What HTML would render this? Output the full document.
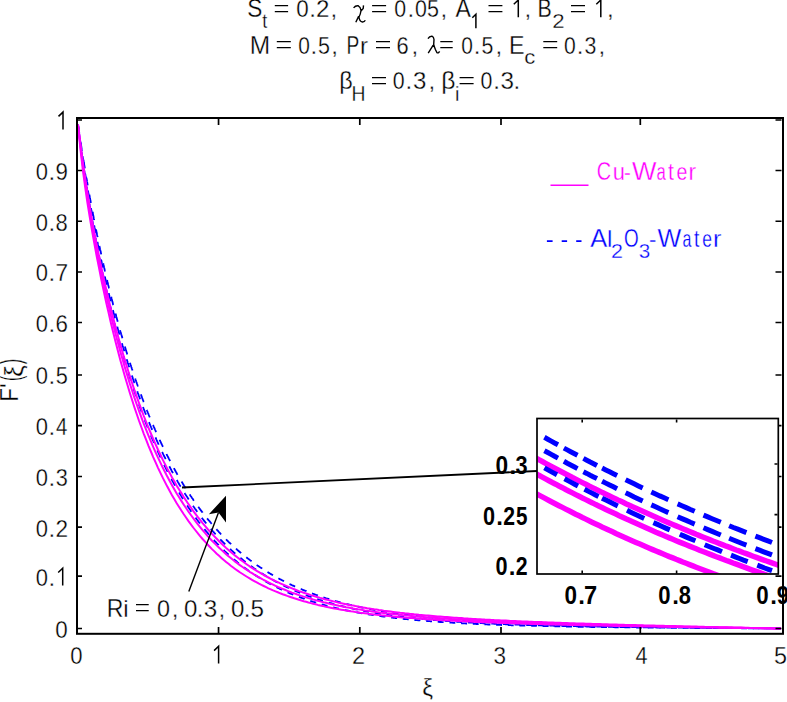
<!DOCTYPE html>
<html><head><meta charset="utf-8">
<style>
html,body{margin:0;padding:0;background:#fff;}
svg{display:block;}
text{font-family:"Liberation Sans",sans-serif;}
</style></head>
<body>
<svg width="787" height="702" viewBox="0 0 787 702">
<defs>
<clipPath id="cm"><rect x="78" y="119" width="704" height="514"/></clipPath>
<clipPath id="ci"><rect x="537.5" y="419" width="240.5" height="154.5"/></clipPath>
</defs>
<rect width="787" height="702" fill="#fff"/>
<g clip-path="url(#cm)" fill="none" stroke-width="2" stroke-linejoin="round">
<g stroke="#0000ff" stroke-width="1.8"><path d="M78.0,124.7 L78.1,125.5 L78.2,126.3 L78.4,127.1 L78.5,127.9 L78.6,128.7 L78.7,129.5 L78.8,130.3 L78.9,131.0 L79.1,131.8 L79.2,132.6 L79.3,133.4 M80.7,142.6 L80.8,143.4 L80.9,144.2 L81.0,144.9 L81.2,145.7 L81.3,146.4 L81.4,147.2 L81.5,147.9 L81.6,148.7 L81.7,149.4 L81.9,150.2 L82.0,150.9 M83.4,159.7 L83.5,160.4 L83.6,161.1 L83.7,161.9 L83.9,162.6 L84.0,163.3 L84.1,164.0 L84.2,164.7 L84.3,165.4 L84.4,166.1 L84.6,166.8 L84.7,167.5 L84.8,168.3 M86.3,177.3 L86.4,178.0 L86.6,178.7 L86.7,179.3 L86.8,180.0 L86.9,180.7 L87.0,181.4 L87.1,182.0 L87.3,182.7 L87.4,183.4 L87.5,184.1 L87.6,184.7 L87.7,185.4 M89.4,194.6 L89.5,195.3 L89.6,195.9 L89.7,196.6 L89.8,197.2 L90.0,197.9 L90.1,198.5 L90.2,199.1 L90.3,199.8 L90.4,200.4 L90.5,201.1 L90.7,201.7 L90.8,202.3 L90.9,203.0 M92.5,211.7 L92.6,212.3 L92.8,212.9 L92.9,213.6 L93.0,214.2 L93.1,214.8 L93.2,215.4 L93.4,216.0 L93.5,216.6 L93.6,217.2 L93.7,217.8 L93.8,218.4 L93.9,219.0 L94.1,219.6 L94.2,220.2 M95.9,229.1 L96.0,229.7 L96.2,230.3 L96.3,230.8 L96.4,231.4 L96.5,232.0 L96.6,232.6 L96.7,233.1 L96.9,233.7 L97.0,234.3 L97.1,234.9 L97.2,235.4 L97.3,236.0 L97.5,236.6 L97.6,237.2 M99.4,246.1 L99.7,247.2 L99.9,248.3 L100.1,249.4 L100.4,250.5 L100.6,251.6 L100.9,252.7 L101.1,253.7 L101.2,254.3 M103.2,263.3 L103.4,264.3 L103.7,265.4 L103.9,266.4 L104.1,267.4 L104.4,268.5 L104.6,269.5 L104.8,270.5 L105.1,271.5 M107.1,280.0 L107.3,281.0 L107.5,282.0 L107.8,283.0 L108.0,284.0 L108.2,284.9 L108.5,285.9 L108.7,286.9 L108.9,287.8 L109.1,288.3 M111.2,296.8 L111.4,297.7 L111.6,298.7 L111.9,299.6 L112.1,300.5 L112.3,301.4 L112.6,302.3 L112.8,303.3 L113.0,304.2 L113.3,305.1 M115.5,313.5 L115.7,314.4 L116.0,315.3 L116.2,316.1 L116.4,317.0 L116.7,317.9 L116.9,318.7 L117.1,319.6 L117.4,320.5 L117.6,321.3 L117.7,321.7 M120.1,330.1 L120.3,331.0 L120.5,331.8 L120.8,332.6 L121.0,333.4 L121.2,334.2 L121.5,335.0 L121.7,335.8 L121.9,336.6 L122.2,337.5 L122.4,338.3 M124.9,346.5 L125.1,347.3 L125.3,348.1 L125.6,348.8 L125.8,349.6 L126.0,350.4 L126.3,351.1 L126.5,351.9 L126.7,352.7 L127.0,353.4 L127.2,354.2 L127.3,354.5 M129.9,362.7 L130.1,363.4 L130.4,364.1 L130.6,364.8 L130.9,365.6 L131.1,366.3 L131.3,367.0 L131.6,367.7 L131.8,368.4 L132.0,369.1 L132.3,369.8 L132.5,370.5 M135.2,378.5 L135.5,379.5 L135.9,380.5 L136.2,381.5 L136.6,382.5 L136.9,383.6 L137.3,384.5 L137.6,385.5 L138.0,386.5 M140.8,394.3 L141.2,395.2 L141.5,396.2 L141.9,397.1 L142.2,398.1 L142.6,399.0 L142.9,399.9 L143.3,400.8 L143.6,401.8 L143.7,402.1 M146.8,409.9 L147.1,410.8 L147.5,411.7 L147.8,412.5 L148.2,413.4 L148.5,414.3 L148.9,415.1 L149.2,416.0 L149.6,416.9 L149.8,417.4 M153.0,425.0 L153.4,425.8 L153.7,426.6 L154.1,427.4 L154.4,428.2 L154.8,429.0 L155.1,429.8 L155.5,430.6 L155.8,431.4 L156.2,432.2 M159.6,439.7 L159.9,440.5 L160.3,441.2 L160.6,442.0 L161.0,442.7 L161.3,443.5 L161.7,444.2 L162.0,444.9 L162.4,445.7 L162.7,446.4 L163.0,446.9 M166.5,454.0 L166.9,455.0 L167.4,455.9 L167.9,456.8 L168.4,457.7 L168.8,458.6 L169.3,459.5 L169.8,460.4 L170.1,461.1 M173.9,468.1 L174.3,469.0 L174.8,469.8 L175.3,470.7 L175.7,471.5 L176.2,472.3 L176.7,473.2 L177.1,474.0 L177.6,474.8 M181.6,481.6 L182.1,482.4 L182.5,483.1 L183.0,483.9 L183.5,484.7 L183.9,485.4 L184.4,486.2 L184.9,487.0 L185.3,487.7 L185.6,488.1 M189.7,494.4 L190.1,495.1 L190.6,495.9 L191.1,496.6 L191.6,497.3 L192.0,497.9 L192.5,498.6 L193.0,499.3 L193.4,500.0 L193.9,500.7 M198.2,506.8 L198.7,507.4 L199.2,508.1 L199.6,508.7 L200.1,509.3 L200.6,509.9 L201.0,510.6 L201.5,511.2 L202.0,511.8 L202.5,512.4 L202.6,512.6 M207.1,518.4 L207.7,519.1 L208.3,519.8 L208.9,520.5 L209.5,521.2 L210.1,521.9 L210.7,522.6 L211.2,523.3 L211.7,523.9 M216.4,529.2 L217.0,529.9 L217.6,530.5 L218.2,531.1 L218.7,531.8 L219.3,532.4 L219.9,533.0 L220.5,533.7 L221.1,534.3 L221.2,534.4 M226.0,539.3 L226.6,539.9 L227.2,540.5 L227.8,541.0 L228.3,541.6 L228.9,542.2 L229.5,542.7 L230.1,543.3 L230.7,543.8 L231.0,544.2 M236.0,548.6 L236.6,549.2 L237.1,549.7 L237.7,550.2 L238.3,550.7 L238.9,551.2 L239.5,551.7 L240.1,552.2 L240.7,552.7 L241.1,553.1 M246.3,557.2 L246.9,557.7 L247.5,558.2 L248.0,558.6 L248.6,559.1 L249.2,559.5 L249.8,559.9 L250.4,560.4 L251.0,560.8 L251.6,561.3 M256.7,564.9 L257.3,565.4 L257.9,565.8 L258.5,566.2 L259.1,566.6 L259.6,567.0 L260.2,567.3 L260.8,567.7 L261.4,568.1 L262.0,568.5 L262.1,568.6 M267.5,572.0 L268.2,572.4 L268.9,572.9 L269.6,573.3 L270.3,573.7 L271.0,574.1 L271.7,574.5 L272.4,574.9 L273.0,575.3 M278.4,578.3 L279.1,578.7 L279.8,579.1 L280.5,579.4 L281.2,579.8 L281.9,580.2 L282.6,580.5 L283.3,580.9 L284.0,581.3 M289.5,584.0 L290.2,584.3 L290.9,584.6 L291.6,585.0 L292.3,585.3 L293.0,585.6 L293.7,585.9 L294.4,586.2 L295.1,586.6 M300.7,589.0 L301.4,589.2 L302.1,589.5 L302.8,589.8 L303.5,590.1 L304.2,590.4 L304.9,590.7 L305.6,591.0 L306.3,591.2 L306.4,591.3 M312.0,593.4 L312.7,593.7 L313.4,593.9 L314.1,594.2 L314.8,594.5 L315.5,594.7 L316.2,595.0 L316.9,595.2 L317.6,595.4 L317.8,595.5 M323.4,597.4 L324.1,597.6 L324.8,597.8 L325.5,598.0 L326.2,598.3 L326.9,598.5 L327.6,598.7 L328.3,598.9 L329.0,599.1 L329.1,599.2 M334.9,600.9 L335.6,601.1 L336.3,601.3 L337.0,601.5 L337.7,601.6 L338.4,601.8 L339.1,602.0 L339.8,602.2 L340.5,602.4 L340.6,602.4 M346.4,603.9 L347.1,604.1 L347.8,604.3 L348.5,604.4 L349.2,604.6 L349.9,604.8 L350.6,605.0 L351.3,605.1 L352.0,605.3 L352.1,605.3 M357.8,606.6 L358.5,606.8 L359.2,606.9 L359.9,607.1 L360.7,607.2 L361.4,607.4 L362.1,607.5 L362.8,607.7 L363.5,607.8 L363.7,607.9 M369.4,609.0 L370.1,609.2 L370.8,609.3 L371.6,609.4 L372.3,609.6 L373.0,609.7 L373.7,609.8 L374.4,609.9 L375.1,610.1 L375.3,610.1 M381.0,611.1 L381.7,611.2 L382.4,611.4 L383.2,611.5 L383.9,611.6 L384.6,611.7 L385.3,611.8 L386.0,611.9 L386.7,612.0 L386.9,612.1 M392.6,613.0 L393.3,613.1 L394.1,613.2 L394.8,613.3 L395.5,613.4 L396.2,613.5 L396.9,613.6 L397.6,613.7 L398.3,613.8 L398.5,613.8 M404.2,614.6 L404.9,614.7 L405.7,614.8 L406.4,614.9 L407.1,615.0 L407.8,615.1 L408.5,615.1 L409.2,615.2 L409.9,615.3 L410.1,615.4 M415.8,616.0 L416.6,616.1 L417.3,616.2 L418.0,616.3 L418.7,616.4 L419.4,616.4 L420.1,616.5 L420.8,616.6 L421.5,616.7 L421.7,616.7 M427.6,617.3 L428.3,617.4 L429.0,617.5 L429.7,617.5 L430.4,617.6 L431.1,617.7 L431.8,617.7 L432.5,617.8 L433.2,617.9 L433.4,617.9 M439.2,618.4 L439.9,618.5 L440.6,618.6 L441.3,618.6 L442.0,618.7 L442.7,618.8 L443.4,618.8 L444.1,618.9 L444.8,618.9 L445.0,619.0 M450.9,619.4 L451.6,619.5 L452.3,619.6 L453.0,619.6 L453.7,619.7 L454.4,619.7 L455.1,619.8 L455.8,619.8 L456.5,619.9 L456.7,619.9 M462.5,620.3 L463.2,620.4 L463.9,620.4 L464.6,620.5 L465.3,620.5 L466.0,620.6 L466.7,620.6 L467.4,620.7 L468.1,620.7 L468.3,620.7 M474.1,621.1 L474.8,621.2 L475.5,621.2 L476.2,621.2 L476.9,621.3 L477.6,621.3 L478.3,621.4 L479.0,621.4 L479.7,621.5 L480.1,621.5 M485.8,621.8 L486.5,621.9 L487.2,621.9 L487.9,621.9 L488.6,622.0 L489.3,622.0 L490.0,622.1 L490.7,622.1 L491.4,622.1 L491.7,622.1 M497.5,622.4 L498.2,622.5 L498.9,622.5 L499.6,622.6 L500.3,622.6 L501.0,622.6 L501.7,622.7 L502.4,622.7 L503.2,622.7 L503.4,622.7 M509.1,623.0 L509.8,623.0 L510.5,623.1 L511.2,623.1 L511.9,623.1 L512.6,623.2 L513.3,623.2 L514.0,623.2 L514.8,623.3 L515.0,623.3 M520.8,623.5 L521.5,623.5 L522.3,623.6 L523.0,623.6 L523.7,623.6 L524.4,623.7 L525.1,623.7 L525.8,623.7 L526.5,623.7 L526.7,623.7 M532.4,624.0 L533.2,624.0 L533.9,624.0 L534.6,624.0 L535.3,624.1 L536.0,624.1 L536.7,624.1 L537.4,624.1 L538.1,624.2 L538.3,624.2 M544.2,624.4 L544.9,624.4 L545.6,624.4 L546.3,624.4 L547.0,624.5 L547.7,624.5 L548.4,624.5 L549.1,624.5 L549.8,624.6 L550.0,624.6 M555.8,624.7 L556.5,624.8 L557.2,624.8 L557.9,624.8 L558.6,624.8 L559.3,624.8 L560.0,624.9 L560.7,624.9 L561.4,624.9 L561.6,624.9 M567.5,625.1 L568.2,625.1 L568.9,625.1 L569.6,625.1 L570.3,625.2 L571.0,625.2 L571.7,625.2 L572.4,625.2 L573.1,625.2 L573.3,625.2 M579.1,625.4 L579.8,625.4 L580.5,625.4 L581.2,625.4 L581.9,625.5 L582.6,625.5 L583.3,625.5 L584.0,625.5 L584.7,625.5 L585.1,625.5 M590.8,625.7 L591.5,625.7 L592.2,625.7 L592.9,625.7 L593.6,625.7 L594.3,625.8 L595.0,625.8 L595.7,625.8 L596.4,625.8 L596.7,625.8 M602.5,625.9 L603.2,626.0 L603.9,626.0 L604.6,626.0 L605.3,626.0 L606.0,626.0 L606.7,626.0 L607.4,626.0 L608.2,626.1 L608.4,626.1 M614.1,626.2 L614.8,626.2 L615.5,626.2 L616.2,626.2 L616.9,626.2 L617.6,626.2 L618.3,626.3 L619.0,626.3 L619.8,626.3 L620.0,626.3 M625.8,626.4 L626.5,626.4 L627.3,626.4 L628.0,626.4 L628.7,626.5 L629.4,626.5 L630.1,626.5 L630.8,626.5 L631.5,626.5 L631.7,626.5 M637.4,626.6 L638.2,626.6 L638.9,626.6 L639.6,626.6 L640.3,626.7 L641.0,626.7 L641.7,626.7 L642.4,626.7 L643.1,626.7 L643.3,626.7 M649.2,626.8 L649.9,626.8 L650.6,626.8 L651.3,626.8 L652.0,626.9 L652.7,626.9 L653.4,626.9 L654.1,626.9 L654.8,626.9 L655.0,626.9 M660.8,627.0 L661.5,627.0 L662.2,627.0 L662.9,627.0 L663.6,627.0 L664.3,627.0 L665.0,627.1 L665.7,627.1 L666.4,627.1 L666.7,627.1 M672.5,627.2 L673.2,627.2 L673.9,627.2 L674.6,627.2 L675.3,627.2 L676.0,627.2 L676.7,627.2 L677.4,627.2 L678.1,627.3 L678.3,627.3 M684.2,627.3 L684.9,627.3 L685.6,627.4 L686.3,627.4 L687.0,627.4 L687.7,627.4 L688.4,627.4 L689.1,627.4 L689.8,627.4 L690.1,627.4 M695.8,627.5 L696.5,627.5 L697.2,627.5 L697.9,627.5 L698.6,627.5 L699.3,627.5 L700.0,627.6 L700.7,627.6 L701.4,627.6 L701.7,627.6 M707.5,627.6 L708.2,627.7 L708.9,627.7 L709.6,627.7 L710.3,627.7 L711.0,627.7 L711.7,627.7 L712.4,627.7 L713.1,627.7 L713.4,627.7 M719.1,627.8 L719.8,627.8 L720.5,627.8 L721.2,627.8 L721.9,627.8 L722.6,627.8 L723.3,627.8 L724.0,627.9 L724.8,627.9 L725.1,627.9 M730.8,627.9 L731.5,627.9 L732.3,628.0 L733.0,628.0 L733.7,628.0 L734.4,628.0 L735.1,628.0 L735.8,628.0 L736.5,628.0 L736.7,628.0 M742.6,628.1 L743.3,628.1 L744.0,628.1 L744.7,628.1 L745.4,628.1 L746.1,628.1 L746.8,628.1 L747.5,628.1 L748.2,628.1 L748.4,628.1 M754.2,628.2 L754.9,628.2 L755.6,628.2 L756.3,628.2 L757.0,628.2 L757.7,628.2 L758.4,628.3 L759.1,628.3 L759.8,628.3 L760.0,628.3 M765.9,628.3 L766.6,628.3 L767.3,628.4 L768.0,628.4 L768.7,628.4 L769.4,628.4 L770.1,628.4 L770.8,628.4 L771.5,628.4 L771.7,628.4 M777.5,628.5 L777.8,628.5 L778.2,628.5 L778.5,628.5 L778.9,628.5 L779.2,628.5 L779.6,628.5 L779.9,628.5 L780.3,628.5 L780.6,628.5 L781.0,628.5"/><path d="M78.0,124.7 L78.1,125.6 L78.2,126.4 L78.4,127.3 L78.5,128.1 L78.6,129.0 M79.9,138.3 L80.0,139.1 L80.1,139.9 L80.2,140.8 L80.3,141.6 L80.5,142.4 L80.6,143.2 L80.7,144.0 L80.8,144.9 L80.9,145.7 L81.0,146.5 M82.5,156.0 L82.6,156.8 L82.7,157.6 L82.8,158.3 L82.9,159.1 L83.0,159.9 L83.2,160.7 L83.3,161.4 L83.4,162.2 L83.5,163.0 L83.6,163.7 M85.1,173.5 L85.3,174.2 L85.4,174.9 L85.5,175.7 L85.6,176.4 L85.7,177.1 L85.9,177.8 L86.0,178.6 L86.1,179.3 L86.2,180.0 L86.3,180.7 L86.4,181.4 M88.0,190.6 L88.1,191.3 L88.2,192.0 L88.3,192.7 L88.4,193.4 L88.5,194.1 L88.7,194.8 L88.8,195.4 L88.9,196.1 L89.0,196.8 L89.1,197.5 L89.2,198.2 L89.4,198.8 M91.0,208.1 L91.1,208.8 L91.2,209.4 L91.4,210.1 L91.5,210.7 L91.6,211.4 L91.7,212.0 L91.8,212.7 L91.9,213.3 L92.1,214.0 L92.2,214.6 L92.3,215.2 L92.4,215.9 M94.2,225.3 L94.3,225.9 L94.4,226.5 L94.5,227.1 L94.6,227.7 L94.8,228.3 L94.9,228.9 L95.0,229.6 L95.1,230.2 L95.2,230.8 L95.3,231.4 L95.5,232.0 L95.6,232.6 L95.7,233.2 M97.5,242.0 L97.7,243.2 L97.9,244.4 L98.2,245.5 L98.4,246.7 L98.6,247.8 L98.9,248.9 L99.1,250.1 L99.2,250.6 M101.1,259.5 L101.3,260.6 L101.6,261.7 L101.8,262.8 L102.0,263.9 L102.3,265.0 L102.5,266.0 L102.7,267.1 L102.8,267.6 M104.8,276.6 L105.1,277.6 L105.3,278.6 L105.5,279.6 L105.8,280.7 L106.0,281.7 L106.2,282.7 L106.5,283.7 L106.7,284.7 M108.7,293.1 L108.9,294.1 L109.2,295.0 L109.4,296.0 L109.6,297.0 L109.9,297.9 L110.1,298.9 L110.3,299.8 L110.6,300.8 L110.7,301.3 M112.9,310.1 L113.2,311.0 L113.4,311.9 L113.6,312.8 L113.9,313.7 L114.1,314.6 L114.3,315.5 L114.6,316.4 L114.8,317.3 L115.0,318.2 M117.3,326.6 L117.5,327.4 L117.7,328.3 L118.0,329.1 L118.2,330.0 L118.4,330.8 L118.7,331.7 L118.9,332.5 L119.1,333.4 L119.4,334.2 L119.5,334.6 M121.9,343.3 L122.2,344.1 L122.4,344.9 L122.6,345.7 L122.9,346.5 L123.1,347.3 L123.4,348.1 L123.6,348.9 L123.8,349.7 L124.1,350.4 L124.3,351.2 M126.7,359.3 L127.0,360.1 L127.2,360.9 L127.5,361.6 L127.7,362.4 L127.9,363.1 L128.2,363.9 L128.4,364.6 L128.6,365.3 L128.9,366.1 L129.1,366.8 L129.2,367.2 M131.9,375.5 L132.1,376.2 L132.4,376.9 L132.6,377.6 L132.8,378.3 L133.1,379.0 L133.3,379.7 L133.5,380.4 L133.8,381.1 L134.0,381.8 L134.2,382.5 L134.5,383.2 M137.3,391.3 L137.6,392.3 L138.0,393.3 L138.4,394.3 L138.7,395.3 L139.1,396.3 L139.4,397.2 L139.8,398.2 L140.1,399.2 M143.0,407.0 L143.4,408.0 L143.7,408.9 L144.1,409.8 L144.4,410.7 L144.8,411.6 L145.1,412.5 L145.5,413.4 L145.9,414.3 L146.0,414.6 M149.0,422.2 L149.4,423.1 L149.7,423.9 L150.1,424.8 L150.4,425.6 L150.8,426.5 L151.1,427.3 L151.5,428.2 L151.8,429.0 L152.2,429.8 M155.5,437.4 L155.8,438.2 L156.2,439.0 L156.5,439.8 L156.9,440.6 L157.2,441.4 L157.6,442.1 L157.9,442.9 L158.3,443.7 L158.6,444.5 L158.7,444.7 M162.1,452.0 L162.5,452.7 L162.8,453.4 L163.2,454.2 L163.5,454.9 L163.9,455.6 L164.2,456.3 L164.6,457.0 L165.0,457.7 L165.3,458.4 L165.7,459.2 M169.3,466.3 L169.8,467.2 L170.2,468.1 L170.7,468.9 L171.2,469.8 L171.6,470.7 L172.1,471.6 L172.6,472.4 L172.9,473.1 M176.8,480.0 L177.3,480.8 L177.7,481.6 L178.2,482.5 L178.7,483.3 L179.1,484.1 L179.6,484.9 L180.1,485.6 L180.5,486.4 L180.7,486.6 M184.6,493.1 L185.1,493.9 L185.6,494.6 L186.0,495.3 L186.5,496.1 L187.0,496.8 L187.5,497.5 L187.9,498.3 L188.4,499.0 L188.7,499.5 M193.0,505.7 L193.4,506.4 L193.9,507.1 L194.4,507.8 L194.8,508.4 L195.3,509.1 L195.8,509.7 L196.2,510.4 L196.7,511.0 L197.2,511.7 L197.3,511.8 M201.7,517.8 L202.2,518.4 L202.7,519.0 L203.2,519.6 L203.6,520.2 L204.1,520.8 L204.6,521.4 L205.0,521.9 L205.5,522.5 L206.0,523.1 L206.2,523.4 M210.8,528.9 L211.4,529.6 L211.9,530.2 L212.5,530.9 L213.1,531.6 L213.7,532.2 L214.3,532.9 L214.9,533.5 L215.5,534.2 L215.6,534.3 M220.3,539.3 L220.8,539.9 L221.4,540.5 L222.0,541.1 L222.6,541.7 L223.2,542.3 L223.8,542.9 L224.4,543.5 L225.0,544.1 L225.2,544.3 M230.1,549.0 L230.7,549.5 L231.3,550.1 L231.9,550.6 L232.5,551.1 L233.0,551.6 L233.6,552.2 L234.2,552.7 L234.8,553.2 L235.3,553.6 M240.3,557.9 L240.9,558.3 L241.5,558.8 L242.1,559.3 L242.6,559.7 L243.2,560.2 L243.8,560.7 L244.4,561.1 L245.0,561.6 L245.6,562.0 M250.7,565.9 L251.3,566.3 L251.9,566.7 L252.5,567.1 L253.1,567.6 L253.7,568.0 L254.2,568.4 L254.8,568.8 L255.4,569.2 L256.0,569.6 L256.1,569.7 M261.4,573.1 L262.1,573.6 L262.8,574.0 L263.5,574.4 L264.2,574.9 L264.9,575.3 L265.6,575.7 L266.3,576.2 L266.9,576.5 M272.3,579.6 L273.0,580.0 L273.7,580.4 L274.4,580.8 L275.1,581.2 L275.8,581.6 L276.5,581.9 L277.2,582.3 L277.8,582.6 M283.3,585.4 L284.0,585.7 L284.7,586.1 L285.4,586.4 L286.1,586.8 L286.8,587.1 L287.5,587.4 L288.2,587.7 L288.9,588.1 M294.6,590.6 L295.3,590.9 L296.0,591.2 L296.7,591.5 L297.4,591.8 L298.1,592.0 L298.8,592.3 L299.5,592.6 L300.2,592.9 M305.8,595.1 L306.5,595.4 L307.2,595.6 L307.9,595.9 L308.6,596.1 L309.3,596.4 L310.0,596.6 L310.7,596.9 L311.4,597.1 L311.6,597.2 M317.2,599.1 L317.9,599.3 L318.6,599.5 L319.3,599.8 L320.0,600.0 L320.7,600.2 L321.4,600.4 L322.1,600.7 L322.8,600.9 L322.9,600.9 M328.7,602.6 L329.4,602.8 L330.1,603.0 L330.8,603.2 L331.5,603.4 L332.2,603.6 L332.9,603.8 L333.6,604.0 L334.3,604.2 L334.4,604.2 M340.1,605.7 L340.8,605.9 L341.6,606.0 L342.3,606.2 L343.0,606.4 L343.7,606.6 L344.4,606.7 L345.1,606.9 L345.8,607.1 L345.9,607.1 M351.6,608.4 L352.3,608.5 L353.0,608.7 L353.7,608.8 L354.4,609.0 L355.1,609.1 L355.8,609.3 L356.6,609.4 L357.3,609.6 L357.5,609.6 M363.2,610.8 L363.9,610.9 L364.6,611.0 L365.3,611.2 L366.0,611.3 L366.7,611.4 L367.4,611.6 L368.2,611.7 L368.9,611.8 L369.1,611.9 M374.8,612.8 L375.5,613.0 L376.2,613.1 L376.9,613.2 L377.6,613.3 L378.3,613.4 L379.1,613.5 L379.8,613.6 L380.5,613.8 L380.7,613.8 M386.4,614.7 L387.1,614.8 L387.8,614.9 L388.5,615.0 L389.2,615.1 L389.9,615.2 L390.7,615.3 L391.4,615.4 L392.1,615.5 L392.3,615.5 M398.0,616.2 L398.7,616.3 L399.4,616.4 L400.1,616.5 L400.8,616.6 L401.6,616.7 L402.3,616.8 L403.0,616.9 L403.7,616.9 L403.9,617.0 M409.6,617.6 L410.3,617.7 L411.0,617.8 L411.7,617.9 L412.4,617.9 L413.2,618.0 L413.9,618.1 L414.6,618.2 L415.3,618.2 L415.6,618.3 M421.4,618.9 L422.1,618.9 L422.8,619.0 L423.5,619.1 L424.2,619.1 L424.9,619.2 L425.6,619.3 L426.3,619.3 L427.0,619.4 L427.2,619.4 M433.0,619.9 L433.7,620.0 L434.4,620.1 L435.1,620.1 L435.8,620.2 L436.5,620.2 L437.2,620.3 L437.9,620.3 L438.6,620.4 L438.8,620.4 M444.7,620.9 L445.4,620.9 L446.1,621.0 L446.8,621.0 L447.5,621.1 L448.2,621.1 L448.9,621.2 L449.6,621.2 L450.3,621.3 L450.5,621.3 M456.3,621.7 L457.0,621.8 L457.7,621.8 L458.4,621.8 L459.1,621.9 L459.8,621.9 L460.5,622.0 L461.2,622.0 L461.9,622.1 L462.1,622.1 M468.0,622.4 L468.7,622.5 L469.4,622.5 L470.1,622.6 L470.8,622.6 L471.5,622.6 L472.2,622.7 L472.9,622.7 L473.6,622.8 L473.9,622.8 M479.6,623.1 L480.3,623.1 L481.0,623.1 L481.7,623.2 L482.4,623.2 L483.1,623.3 L483.8,623.3 L484.5,623.3 L485.2,623.4 L485.5,623.4 M491.3,623.6 L492.0,623.7 L492.7,623.7 L493.4,623.7 L494.1,623.8 L494.8,623.8 L495.5,623.8 L496.2,623.9 L496.9,623.9 L497.2,623.9 M502.9,624.1 L503.6,624.2 L504.3,624.2 L505.0,624.2 L505.7,624.3 L506.4,624.3 L507.1,624.3 L507.8,624.3 L508.5,624.4 L508.8,624.4 M514.6,624.6 L515.3,624.6 L516.0,624.6 L516.7,624.7 L517.4,624.7 L518.2,624.7 L518.9,624.7 L519.6,624.8 L520.3,624.8 L520.5,624.8 M526.2,625.0 L526.9,625.0 L527.6,625.0 L528.3,625.0 L529.0,625.1 L529.8,625.1 L530.5,625.1 L531.2,625.1 L531.9,625.2 L532.2,625.2 M538.0,625.3 L538.7,625.4 L539.4,625.4 L540.1,625.4 L540.8,625.4 L541.5,625.4 L542.2,625.5 L542.9,625.5 L543.6,625.5 L543.8,625.5 M549.6,625.6 L550.3,625.7 L551.0,625.7 L551.7,625.7 L552.4,625.7 L553.1,625.7 L553.8,625.8 L554.5,625.8 L555.2,625.8 L555.5,625.8 M561.3,625.9 L562.0,625.9 L562.7,626.0 L563.4,626.0 L564.1,626.0 L564.8,626.0 L565.5,626.0 L566.2,626.0 L566.9,626.1 L567.1,626.1 M573.0,626.2 L573.7,626.2 L574.4,626.2 L575.1,626.2 L575.8,626.2 L576.5,626.3 L577.2,626.3 L577.9,626.3 L578.6,626.3 L578.9,626.3 M584.6,626.4 L585.3,626.4 L586.0,626.4 L586.7,626.5 L587.4,626.5 L588.1,626.5 L588.8,626.5 L589.5,626.5 L590.2,626.5 L590.5,626.5 M596.3,626.6 L597.0,626.6 L597.7,626.6 L598.4,626.7 L599.1,626.7 L599.8,626.7 L600.5,626.7 L601.2,626.7 L601.9,626.7 L602.2,626.7 M607.9,626.8 L608.6,626.8 L609.3,626.8 L610.0,626.8 L610.7,626.9 L611.4,626.9 L612.1,626.9 L612.8,626.9 L613.5,626.9 L613.9,626.9 M619.6,627.0 L620.3,627.0 L621.0,627.0 L621.7,627.0 L622.4,627.0 L623.2,627.0 L623.9,627.0 L624.6,627.1 L625.3,627.1 L625.5,627.1 M631.4,627.1 L632.1,627.2 L632.8,627.2 L633.5,627.2 L634.2,627.2 L634.9,627.2 L635.6,627.2 L636.3,627.2 L637.0,627.2 L637.2,627.2 M643.0,627.3 L643.7,627.3 L644.4,627.3 L645.1,627.3 L645.8,627.3 L646.5,627.3 L647.2,627.3 L647.9,627.4 L648.6,627.4 L648.8,627.4 M654.7,627.4 L655.4,627.4 L656.1,627.4 L656.8,627.5 L657.5,627.5 L658.2,627.5 L658.9,627.5 L659.6,627.5 L660.3,627.5 L660.5,627.5 M666.3,627.6 L667.0,627.6 L667.7,627.6 L668.4,627.6 L669.1,627.6 L669.8,627.6 L670.5,627.6 L671.2,627.6 L671.9,627.6 L672.1,627.6 M678.0,627.7 L678.7,627.7 L679.4,627.7 L680.1,627.7 L680.8,627.7 L681.5,627.7 L682.2,627.7 L682.9,627.7 L683.6,627.7 L683.9,627.7 M689.6,627.8 L690.3,627.8 L691.0,627.8 L691.7,627.8 L692.4,627.8 L693.1,627.8 L693.8,627.8 L694.5,627.8 L695.2,627.8 L695.6,627.8 M701.3,627.9 L702.0,627.9 L702.7,627.9 L703.4,627.9 L704.1,627.9 L704.8,627.9 L705.5,627.9 L706.2,627.9 L706.9,627.9 L707.2,627.9 M713.0,628.0 L713.7,628.0 L714.4,628.0 L715.1,628.0 L715.8,628.0 L716.5,628.0 L717.3,628.0 L718.0,628.0 L718.7,628.0 L718.9,628.0 M724.6,628.1 L725.3,628.1 L726.0,628.1 L726.7,628.1 L727.4,628.1 L728.1,628.1 L728.9,628.1 L729.6,628.1 L730.3,628.1 L730.5,628.1 M736.4,628.2 L737.1,628.2 L737.8,628.2 L738.5,628.2 L739.2,628.2 L739.9,628.2 L740.6,628.2 L741.3,628.2 L742.0,628.2 L742.2,628.2 M748.0,628.3 L748.7,628.3 L749.4,628.3 L750.1,628.3 L750.8,628.3 L751.5,628.3 L752.2,628.3 L752.9,628.3 L753.6,628.3 L753.9,628.3 M759.7,628.4 L760.4,628.4 L761.1,628.4 L761.8,628.4 L762.5,628.4 L763.2,628.4 L763.9,628.4 L764.6,628.4 L765.3,628.4 L765.5,628.4 M771.4,628.4 L772.1,628.4 L772.8,628.4 L773.5,628.4 L774.2,628.5 L774.9,628.5 L775.6,628.5 L776.3,628.5 L777.0,628.5 L777.3,628.5"/><path d="M79.2,134.0 L79.3,134.9 L79.4,135.8 L79.5,136.7 L79.6,137.6 L79.8,138.5 L79.9,139.4 L80.0,140.3 L80.1,141.1 L80.2,142.0 M81.5,151.6 L81.6,152.4 L81.7,153.3 L81.9,154.1 L82.0,154.9 L82.1,155.8 L82.2,156.6 L82.3,157.4 L82.5,158.3 L82.6,159.1 M84.0,168.8 L84.1,169.6 L84.2,170.4 L84.3,171.2 L84.4,172.0 L84.6,172.8 L84.7,173.6 L84.8,174.4 L84.9,175.1 L85.0,175.9 L85.1,176.7 M86.7,186.6 L86.8,187.3 L86.9,188.0 L87.0,188.8 L87.1,189.5 L87.3,190.3 L87.4,191.0 L87.5,191.7 L87.6,192.5 L87.7,193.2 L87.8,193.9 L88.0,194.6 M89.5,203.9 L89.6,204.6 L89.7,205.3 L89.8,206.0 L90.0,206.7 L90.1,207.3 L90.2,208.0 L90.3,208.7 L90.4,209.4 L90.5,210.1 L90.7,210.8 L90.8,211.5 L90.9,212.1 M92.4,220.8 L92.5,221.5 L92.6,222.1 L92.8,222.8 L92.9,223.4 L93.0,224.1 L93.1,224.7 L93.2,225.4 L93.4,226.0 L93.5,226.7 L93.6,227.3 L93.7,227.9 L93.8,228.6 L93.9,229.2 M95.6,238.0 L95.7,238.6 L95.8,239.2 L95.9,239.9 L96.0,240.5 L96.2,241.1 L96.3,241.7 L96.4,242.3 L96.5,242.9 L96.6,243.5 L96.7,244.1 L96.9,244.7 L97.0,245.3 L97.1,245.9 L97.2,246.5 M99.0,255.4 L99.1,255.9 L99.2,256.5 L99.3,257.1 L99.4,257.7 L99.6,258.3 L99.7,258.8 L99.8,259.4 L99.9,260.0 L100.0,260.5 L100.1,261.1 L100.3,261.7 L100.4,262.3 L100.5,262.8 L100.6,263.4 M102.5,272.3 L102.7,273.4 L103.0,274.5 L103.2,275.5 L103.4,276.6 L103.7,277.7 L103.9,278.8 L104.1,279.8 L104.4,280.9 M106.2,289.3 L106.5,290.3 L106.7,291.3 L106.9,292.3 L107.2,293.3 L107.4,294.4 L107.6,295.4 L107.9,296.4 L108.1,297.4 L108.2,297.9 M110.2,306.2 L110.5,307.2 L110.7,308.2 L110.9,309.1 L111.2,310.1 L111.4,311.1 L111.6,312.0 L111.9,313.0 L112.1,313.9 L112.2,314.4 M114.4,323.2 L114.7,324.1 L114.9,325.0 L115.1,325.9 L115.4,326.8 L115.6,327.7 L115.9,328.6 L116.1,329.5 L116.3,330.4 L116.6,331.3 M118.8,339.6 L119.0,340.4 L119.2,341.3 L119.5,342.1 L119.7,343.0 L120.0,343.8 L120.2,344.7 L120.4,345.5 L120.7,346.3 L120.9,347.2 L121.0,347.6 M123.5,356.2 L123.7,357.0 L123.9,357.8 L124.2,358.6 L124.4,359.4 L124.6,360.2 L124.9,361.0 L125.1,361.8 L125.3,362.6 L125.6,363.3 L125.8,364.1 M128.4,372.6 L128.6,373.3 L128.9,374.1 L129.1,374.8 L129.3,375.6 L129.6,376.3 L129.8,377.0 L130.0,377.8 L130.3,378.5 L130.5,379.3 L130.7,380.0 L130.9,380.4 M133.5,388.6 L133.8,389.3 L134.0,390.0 L134.2,390.7 L134.5,391.4 L134.7,392.1 L135.0,392.8 L135.2,393.5 L135.4,394.2 L135.7,394.9 L135.9,395.6 L136.1,396.2 M138.9,404.3 L139.3,405.3 L139.6,406.3 L140.0,407.2 L140.3,408.2 L140.7,409.2 L141.0,410.1 L141.4,411.1 L141.7,412.0 M144.8,420.1 L145.1,421.0 L145.5,422.0 L145.9,422.9 L146.2,423.8 L146.6,424.7 L146.9,425.6 L147.3,426.4 L147.6,427.3 L147.7,427.6 M150.9,435.4 L151.2,436.2 L151.6,437.1 L151.9,437.9 L152.3,438.8 L152.6,439.6 L153.0,440.4 L153.4,441.2 L153.7,442.1 L154.1,442.9 M157.3,450.3 L157.7,451.1 L158.0,451.9 L158.4,452.6 L158.7,453.4 L159.1,454.2 L159.4,454.9 L159.8,455.7 L160.1,456.5 L160.5,457.2 L160.6,457.5 M164.1,464.8 L164.5,465.5 L164.8,466.2 L165.2,466.9 L165.5,467.6 L165.9,468.3 L166.2,469.0 L166.6,469.7 L166.9,470.4 L167.3,471.1 L167.6,471.8 M171.4,478.9 L171.9,479.8 L172.3,480.7 L172.8,481.5 L173.3,482.4 L173.7,483.2 L174.2,484.1 L174.7,484.9 L175.1,485.7 M179.0,492.4 L179.5,493.2 L180.0,494.0 L180.4,494.8 L180.9,495.6 L181.4,496.3 L181.8,497.1 L182.3,497.9 L182.8,498.6 L183.0,499.0 M187.1,505.4 L187.6,506.1 L188.0,506.8 L188.5,507.5 L189.0,508.2 L189.4,508.9 L189.9,509.6 L190.4,510.3 L190.9,511.0 L191.3,511.7 M195.5,517.6 L196.0,518.2 L196.5,518.9 L196.9,519.5 L197.4,520.1 L197.9,520.8 L198.4,521.4 L198.8,522.0 L199.3,522.6 L199.8,523.2 L200.0,523.5 M204.4,529.2 L205.0,529.9 L205.6,530.6 L206.2,531.3 L206.8,532.0 L207.4,532.7 L208.0,533.4 L208.5,534.1 L209.1,534.7 M213.8,540.0 L214.4,540.6 L215.0,541.3 L215.6,541.9 L216.2,542.5 L216.7,543.1 L217.3,543.7 L217.9,544.3 L218.5,544.9 L218.6,545.1 M223.5,550.0 L224.1,550.5 L224.7,551.1 L225.3,551.6 L225.9,552.2 L226.5,552.7 L227.1,553.3 L227.6,553.8 L228.2,554.3 L228.6,554.7 M233.6,559.1 L234.2,559.6 L234.8,560.1 L235.4,560.5 L236.0,561.0 L236.6,561.5 L237.1,562.0 L237.7,562.5 L238.3,562.9 L238.8,563.3 M243.9,567.3 L244.5,567.7 L245.1,568.1 L245.7,568.6 L246.3,569.0 L246.9,569.4 L247.5,569.8 L248.0,570.3 L248.6,570.7 L249.2,571.1 M254.6,574.7 L255.2,575.1 L255.8,575.5 L256.4,575.9 L256.9,576.2 L257.5,576.6 L258.1,577.0 L258.7,577.3 L259.3,577.7 L259.9,578.0 L260.0,578.1 M265.4,581.3 L266.1,581.7 L266.8,582.1 L267.5,582.5 L268.2,582.9 L268.9,583.3 L269.6,583.6 L270.3,584.0 L271.0,584.4 M276.4,587.2 L277.1,587.5 L277.8,587.8 L278.5,588.2 L279.2,588.5 L279.9,588.9 L280.6,589.2 L281.3,589.5 L282.0,589.8 M287.6,592.4 L288.3,592.7 L289.1,593.0 L289.8,593.3 L290.5,593.6 L291.2,593.8 L291.9,594.1 L292.6,594.4 L293.3,594.7 M298.9,596.9 L299.6,597.1 L300.3,597.4 L301.0,597.7 L301.7,597.9 L302.4,598.2 L303.1,598.4 L303.8,598.7 L304.5,598.9 L304.6,599.0 M310.3,600.9 L311.0,601.1 L311.7,601.3 L312.4,601.5 L313.1,601.8 L313.8,602.0 L314.5,602.2 L315.2,602.4 L315.9,602.6 L316.0,602.7 M321.7,604.3 L322.5,604.5 L323.2,604.7 L323.9,604.9 L324.6,605.1 L325.3,605.3 L326.0,605.5 L326.7,605.7 L327.4,605.9 L327.5,605.9 M333.2,607.4 L333.9,607.5 L334.6,607.7 L335.3,607.9 L336.0,608.0 L336.7,608.2 L337.5,608.4 L338.2,608.5 L338.9,608.7 L339.1,608.7 M344.8,610.0 L345.5,610.1 L346.2,610.3 L346.9,610.4 L347.6,610.6 L348.3,610.7 L349.1,610.9 L349.8,611.0 L350.5,611.2 L350.6,611.2 M356.3,612.3 L357.0,612.4 L357.7,612.5 L358.4,612.7 L359.1,612.8 L359.8,612.9 L360.5,613.0 L361.2,613.2 L361.9,613.3 L362.2,613.3 M367.9,614.3 L368.6,614.4 L369.3,614.5 L370.0,614.6 L370.7,614.7 L371.4,614.8 L372.1,614.9 L372.8,615.0 L373.5,615.1 L373.8,615.2 M379.5,616.0 L380.2,616.1 L380.9,616.2 L381.6,616.3 L382.3,616.4 L383.0,616.5 L383.7,616.6 L384.4,616.7 L385.1,616.7 L385.4,616.8 M391.2,617.5 L391.9,617.6 L392.6,617.7 L393.3,617.8 L394.1,617.8 L394.8,617.9 L395.5,618.0 L396.2,618.1 L396.9,618.2 L397.1,618.2 M402.8,618.8 L403.5,618.9 L404.2,619.0 L404.9,619.0 L405.7,619.1 L406.4,619.2 L407.1,619.2 L407.8,619.3 L408.5,619.4 L408.7,619.4 M414.4,619.9 L415.1,620.0 L415.8,620.1 L416.6,620.1 L417.3,620.2 L418.0,620.3 L418.7,620.3 L419.4,620.4 L420.1,620.4 L420.4,620.5 M426.2,620.9 L426.9,621.0 L427.6,621.1 L428.3,621.1 L429.0,621.2 L429.7,621.2 L430.4,621.3 L431.1,621.3 L431.8,621.4 L432.0,621.4 M437.8,621.8 L438.5,621.9 L439.2,621.9 L439.9,622.0 L440.6,622.0 L441.3,622.0 L442.0,622.1 L442.7,622.1 L443.4,622.2 L443.6,622.2 M449.5,622.6 L450.2,622.6 L450.9,622.7 L451.6,622.7 L452.3,622.7 L453.0,622.8 L453.7,622.8 L454.4,622.9 L455.1,622.9 L455.3,622.9 M461.1,623.2 L461.8,623.3 L462.5,623.3 L463.2,623.3 L463.9,623.4 L464.6,623.4 L465.3,623.4 L466.0,623.5 L466.7,623.5 L467.1,623.5 M472.8,623.8 L473.5,623.8 L474.2,623.9 L474.9,623.9 L475.6,623.9 L476.3,624.0 L477.0,624.0 L477.7,624.0 L478.4,624.1 L478.7,624.1 M484.4,624.3 L485.1,624.3 L485.8,624.4 L486.5,624.4 L487.2,624.4 L487.9,624.5 L488.6,624.5 L489.3,624.5 L490.0,624.5 L490.4,624.5 M496.1,624.8 L496.8,624.8 L497.5,624.8 L498.2,624.8 L498.9,624.9 L499.6,624.9 L500.3,624.9 L501.0,624.9 L501.7,625.0 L502.0,625.0 M507.8,625.2 L508.5,625.2 L509.2,625.2 L509.9,625.2 L510.7,625.2 L511.4,625.3 L512.1,625.3 L512.8,625.3 L513.5,625.3 L513.7,625.3 M519.4,625.5 L520.1,625.5 L520.8,625.5 L521.5,625.6 L522.3,625.6 L523.0,625.6 L523.7,625.6 L524.4,625.6 L525.1,625.7 L525.3,625.7 M531.2,625.8 L531.9,625.8 L532.6,625.8 L533.3,625.9 L534.0,625.9 L534.7,625.9 L535.4,625.9 L536.1,625.9 L536.8,625.9 L537.0,626.0 M542.8,626.1 L543.5,626.1 L544.2,626.1 L544.9,626.1 L545.6,626.1 L546.3,626.2 L547.0,626.2 L547.7,626.2 L548.4,626.2 L548.6,626.2 M554.5,626.3 L555.2,626.3 L555.9,626.4 L556.6,626.4 L557.3,626.4 L558.0,626.4 L558.7,626.4 L559.4,626.4 L560.1,626.4 L560.3,626.4 M566.1,626.5 L566.8,626.6 L567.5,626.6 L568.2,626.6 L568.9,626.6 L569.6,626.6 L570.3,626.6 L571.0,626.6 L571.7,626.6 L572.1,626.7 M577.8,626.7 L578.5,626.8 L579.2,626.8 L579.9,626.8 L580.6,626.8 L581.3,626.8 L582.0,626.8 L582.7,626.8 L583.4,626.8 L583.7,626.8 M589.5,626.9 L590.2,626.9 L590.9,626.9 L591.6,627.0 L592.3,627.0 L593.0,627.0 L593.7,627.0 L594.4,627.0 L595.1,627.0 L595.4,627.0 M601.1,627.1 L601.8,627.1 L602.5,627.1 L603.2,627.1 L603.9,627.1 L604.6,627.1 L605.3,627.1 L606.0,627.1 L606.7,627.2 L607.0,627.2 M612.8,627.2 L613.5,627.2 L614.2,627.2 L614.9,627.3 L615.7,627.3 L616.4,627.3 L617.1,627.3 L617.8,627.3 L618.5,627.3 L618.7,627.3 M624.4,627.4 L625.1,627.4 L625.8,627.4 L626.5,627.4 L627.3,627.4 L628.0,627.4 L628.7,627.4 L629.4,627.4 L630.1,627.4 L630.4,627.4 M636.2,627.5 L636.9,627.5 L637.6,627.5 L638.3,627.5 L639.0,627.5 L639.7,627.5 L640.4,627.5 L641.1,627.5 L641.8,627.5 L642.0,627.5 M647.8,627.6 L648.5,627.6 L649.2,627.6 L649.9,627.6 L650.6,627.6 L651.3,627.6 L652.0,627.6 L652.7,627.6 L653.4,627.7 L653.7,627.7 M659.5,627.7 L660.2,627.7 L660.9,627.7 L661.6,627.7 L662.3,627.7 L663.0,627.7 L663.7,627.7 L664.4,627.7 L665.1,627.8 L665.3,627.8 M671.2,627.8 L671.9,627.8 L672.6,627.8 L673.3,627.8 L674.0,627.8 L674.7,627.8 L675.4,627.8 L676.1,627.8 L676.8,627.8 L677.1,627.9 M682.8,627.9 L683.5,627.9 L684.2,627.9 L684.9,627.9 L685.6,627.9 L686.3,627.9 L687.0,627.9 L687.7,627.9 L688.4,627.9 L688.7,627.9 M694.5,628.0 L695.2,628.0 L695.9,628.0 L696.6,628.0 L697.3,628.0 L698.0,628.0 L698.7,628.0 L699.4,628.0 L700.1,628.0 L700.4,628.0 M706.1,628.1 L706.8,628.1 L707.5,628.1 L708.2,628.1 L708.9,628.1 L709.6,628.1 L710.3,628.1 L711.0,628.1 L711.7,628.1 L712.1,628.1 M717.8,628.1 L718.5,628.1 L719.2,628.1 L719.9,628.2 L720.6,628.2 L721.4,628.2 L722.1,628.2 L722.8,628.2 L723.5,628.2 L723.7,628.2 M729.6,628.2 L730.3,628.2 L731.0,628.2 L731.7,628.2 L732.4,628.2 L733.1,628.2 L733.8,628.2 L734.5,628.2 L735.2,628.2 L735.4,628.2 M741.2,628.3 L741.9,628.3 L742.6,628.3 L743.3,628.3 L744.0,628.3 L744.7,628.3 L745.4,628.3 L746.1,628.3 L746.8,628.3 L747.0,628.3 M752.9,628.3 L753.6,628.4 L754.3,628.4 L755.0,628.4 L755.7,628.4 L756.4,628.4 L757.1,628.4 L757.8,628.4 L758.5,628.4 L758.7,628.4 M764.5,628.4 L765.2,628.4 L765.9,628.4 L766.6,628.4 L767.3,628.4 L768.0,628.4 L768.7,628.4 L769.4,628.4 L770.1,628.4 L770.5,628.4 M776.2,628.5 L776.8,628.5 L777.4,628.5 L778.0,628.5 L778.5,628.5 L779.1,628.5 L779.7,628.5 L780.3,628.5 L780.9,628.5 L781.0,628.5"/></g>
<g stroke="#ff00ff"><path d="M78.0,124.7 L80.4,143.7 L82.7,161.2 L85.1,177.4 L87.4,192.5 L89.8,206.8 L92.1,220.3 L94.5,233.1 L96.8,245.3 L99.2,256.9 L101.5,268.1 L103.9,278.9 L106.2,289.3 L108.6,299.3 L110.9,308.9 L113.3,318.3 L115.6,327.3 L118.0,336.0 L120.3,344.5 L122.7,352.7 L125.0,360.6 L127.4,368.3 L129.7,375.8 L132.1,383.0 L134.4,390.0 L136.8,396.8 L139.1,403.4 L141.5,409.8 L143.8,416.0 L146.2,422.0 L148.5,427.8 L150.9,433.5 L153.2,439.0 L155.6,444.3 L157.9,449.5 L160.3,454.5 L162.6,459.4 L165.0,464.1 L167.3,468.7 L169.7,473.1 L172.0,477.4 L174.4,481.6 L176.7,485.7 L179.1,489.6 L181.5,493.4 L183.8,497.1 L186.2,500.7 L188.5,504.2 L190.9,507.6 L193.2,510.9 L195.6,514.1 L197.9,517.2 L200.3,520.2 L202.6,523.1 L205.0,525.9 L207.3,528.7 L209.7,531.3 L212.0,533.9 L214.4,536.4 L216.7,538.8 L219.1,541.2 L221.4,543.5 L223.8,545.7 L226.1,547.9 L228.5,550.0 L230.8,552.0 L233.2,554.0 L235.5,555.9 L237.9,557.7 L240.2,559.6 L242.6,561.3 L244.9,563.0 L247.3,564.7 L249.6,566.3 L252.0,567.8 L254.3,569.3 L256.7,570.8 L259.0,572.2 L261.4,573.6 L263.7,575.0 L266.1,576.3 L268.4,577.5 L270.8,578.8 L273.1,580.0 L275.5,581.1 L277.8,582.2 L280.2,583.3 L282.6,584.4 L284.9,585.4 L287.3,586.4 L289.6,587.4 L292.0,588.4 L294.3,589.3 L296.7,590.2 L299.0,591.1 L301.4,591.9 L303.7,592.7 L306.1,593.5 L308.4,594.3 L310.8,595.1 L313.1,595.8 L315.5,596.5 L317.8,597.2 L320.2,597.9 L322.5,598.5 L324.9,599.2 L327.2,599.8 L329.6,600.4 L331.9,601.0 L334.3,601.6 L336.6,602.1 L339.0,602.7 L341.3,603.2 L343.7,603.7 L346.0,604.2 L348.4,604.7 L350.7,605.2 L353.1,605.6 L355.4,606.1 L357.8,606.5 L360.1,607.0 L362.5,607.4 L364.8,607.8 L367.2,608.2 L369.5,608.5 L371.9,608.9 L374.2,609.3 L376.6,609.6 L378.9,610.0 L381.3,610.3 L383.7,610.7 L386.0,611.0 L388.4,611.3 L390.7,611.6 L393.1,611.9 L395.4,612.2 L397.8,612.5 L400.1,612.8 L402.5,613.0 L404.8,613.3 L407.2,613.5 L409.5,613.8 L411.9,614.0 L414.2,614.3 L416.6,614.5 L418.9,614.8 L421.3,615.0 L423.6,615.2 L426.0,615.4 L428.3,615.6 L430.7,615.8 L433.0,616.0 L435.4,616.2 L437.7,616.4 L440.1,616.6 L442.4,616.8 L444.8,617.0 L447.1,617.1 L449.5,617.3 L451.8,617.5 L454.2,617.7 L456.5,617.8 L458.9,618.0 L461.2,618.1 L463.6,618.3 L465.9,618.4 L468.3,618.6 L470.6,618.7 L473.0,618.9 L475.3,619.0 L477.7,619.2 L480.1,619.3 L482.4,619.4 L484.8,619.6 L487.1,619.7 L489.5,619.8 L491.8,619.9 L494.2,620.1 L496.5,620.2 L498.9,620.3 L501.2,620.4 L503.6,620.5 L505.9,620.6 L508.3,620.7 L510.6,620.9 L513.0,621.0 L515.3,621.1 L517.7,621.2 L520.0,621.3 L522.4,621.4 L524.7,621.5 L527.1,621.6 L529.4,621.7 L531.8,621.8 L534.1,621.9 L536.5,622.0 L538.8,622.1 L541.2,622.1 L543.5,622.2 L545.9,622.3 L548.2,622.4 L550.6,622.5 L552.9,622.6 L555.3,622.7 L557.6,622.8 L560.0,622.8 L562.3,622.9 L564.7,623.0 L567.0,623.1 L569.4,623.2 L571.7,623.2 L574.1,623.3 L576.4,623.4 L578.8,623.5 L581.2,623.5 L583.5,623.6 L585.9,623.7 L588.2,623.8 L590.6,623.8 L592.9,623.9 L595.3,624.0 L597.6,624.1 L600.0,624.1 L602.3,624.2 L604.7,624.3 L607.0,624.3 L609.4,624.4 L611.7,624.5 L614.1,624.5 L616.4,624.6 L618.8,624.7 L621.1,624.7 L623.5,624.8 L625.8,624.9 L628.2,624.9 L630.5,625.0 L632.9,625.1 L635.2,625.1 L637.6,625.2 L639.9,625.2 L642.3,625.3 L644.6,625.4 L647.0,625.4 L649.3,625.5 L651.7,625.5 L654.0,625.6 L656.4,625.7 L658.7,625.7 L661.1,625.8 L663.4,625.8 L665.8,625.9 L668.1,626.0 L670.5,626.0 L672.8,626.1 L675.2,626.1 L677.5,626.2 L679.9,626.2 L682.3,626.3 L684.6,626.4 L687.0,626.4 L689.3,626.5 L691.7,626.5 L694.0,626.6 L696.4,626.6 L698.7,626.7 L701.1,626.7 L703.4,626.8 L705.8,626.9 L708.1,626.9 L710.5,627.0 L712.8,627.0 L715.2,627.1 L717.5,627.1 L719.9,627.2 L722.2,627.2 L724.6,627.3 L726.9,627.3 L729.3,627.4 L731.6,627.4 L734.0,627.5 L736.3,627.5 L738.7,627.6 L741.0,627.6 L743.4,627.7 L745.7,627.8 L748.1,627.8 L750.4,627.9 L752.8,627.9 L755.1,628.0 L757.5,628.0 L759.8,628.1 L762.2,628.1 L764.5,628.2 L766.9,628.2 L769.2,628.3 L771.6,628.3 L773.9,628.4 L776.3,628.4 L778.6,628.5 L781.0,628.5"/><path d="M78.0,124.7 L80.4,145.9 L82.7,164.7 L85.1,181.8 L87.4,197.5 L89.8,212.1 L92.1,225.8 L94.5,238.7 L96.8,251.1 L99.2,262.9 L101.5,274.2 L103.9,285.1 L106.2,295.5 L108.6,305.7 L110.9,315.5 L113.3,324.9 L115.6,334.1 L118.0,342.9 L120.3,351.5 L122.7,359.8 L125.0,367.9 L127.4,375.6 L129.7,383.2 L132.1,390.5 L134.4,397.6 L136.8,404.5 L139.1,411.1 L141.5,417.6 L143.8,423.8 L146.2,429.9 L148.5,435.7 L150.9,441.4 L153.2,446.9 L155.6,452.3 L157.9,457.4 L160.3,462.4 L162.6,467.3 L165.0,472.0 L167.3,476.6 L169.7,481.0 L172.0,485.2 L174.4,489.4 L176.7,493.4 L179.1,497.3 L181.5,501.1 L183.8,504.7 L186.2,508.3 L188.5,511.7 L190.9,515.0 L193.2,518.2 L195.6,521.4 L197.9,524.4 L200.3,527.3 L202.6,530.1 L205.0,532.9 L207.3,535.6 L209.7,538.2 L212.0,540.7 L214.4,543.1 L216.7,545.4 L219.1,547.7 L221.4,549.9 L223.8,552.1 L226.1,554.2 L228.5,556.2 L230.8,558.1 L233.2,560.0 L235.5,561.9 L237.9,563.6 L240.2,565.4 L242.6,567.0 L244.9,568.7 L247.3,570.2 L249.6,571.8 L252.0,573.2 L254.3,574.7 L256.7,576.1 L259.0,577.4 L261.4,578.7 L263.7,580.0 L266.1,581.2 L268.4,582.4 L270.8,583.6 L273.1,584.7 L275.5,585.8 L277.8,586.9 L280.2,587.9 L282.6,588.9 L284.9,589.8 L287.3,590.8 L289.6,591.7 L292.0,592.6 L294.3,593.4 L296.7,594.3 L299.0,595.1 L301.4,595.9 L303.7,596.6 L306.1,597.4 L308.4,598.1 L310.8,598.8 L313.1,599.5 L315.5,600.1 L317.8,600.8 L320.2,601.4 L322.5,602.0 L324.9,602.6 L327.2,603.1 L329.6,603.7 L331.9,604.2 L334.3,604.8 L336.6,605.3 L339.0,605.8 L341.3,606.2 L343.7,606.7 L346.0,607.2 L348.4,607.6 L350.7,608.0 L353.1,608.5 L355.4,608.9 L357.8,609.3 L360.1,609.6 L362.5,610.0 L364.8,610.4 L367.2,610.7 L369.5,611.1 L371.9,611.4 L374.2,611.7 L376.6,612.1 L378.9,612.4 L381.3,612.7 L383.7,613.0 L386.0,613.3 L388.4,613.5 L390.7,613.8 L393.1,614.1 L395.4,614.3 L397.8,614.6 L400.1,614.8 L402.5,615.1 L404.8,615.3 L407.2,615.6 L409.5,615.8 L411.9,616.0 L414.2,616.2 L416.6,616.4 L418.9,616.6 L421.3,616.8 L423.6,617.0 L426.0,617.2 L428.3,617.4 L430.7,617.6 L433.0,617.8 L435.4,617.9 L437.7,618.1 L440.1,618.3 L442.4,618.4 L444.8,618.6 L447.1,618.7 L449.5,618.9 L451.8,619.1 L454.2,619.2 L456.5,619.3 L458.9,619.5 L461.2,619.6 L463.6,619.8 L465.9,619.9 L468.3,620.0 L470.6,620.1 L473.0,620.3 L475.3,620.4 L477.7,620.5 L480.1,620.6 L482.4,620.7 L484.8,620.9 L487.1,621.0 L489.5,621.1 L491.8,621.2 L494.2,621.3 L496.5,621.4 L498.9,621.5 L501.2,621.6 L503.6,621.7 L505.9,621.8 L508.3,621.9 L510.6,622.0 L513.0,622.1 L515.3,622.2 L517.7,622.3 L520.0,622.4 L522.4,622.5 L524.7,622.5 L527.1,622.6 L529.4,622.7 L531.8,622.8 L534.1,622.9 L536.5,623.0 L538.8,623.0 L541.2,623.1 L543.5,623.2 L545.9,623.3 L548.2,623.3 L550.6,623.4 L552.9,623.5 L555.3,623.6 L557.6,623.6 L560.0,623.7 L562.3,623.8 L564.7,623.9 L567.0,623.9 L569.4,624.0 L571.7,624.1 L574.1,624.1 L576.4,624.2 L578.8,624.3 L581.2,624.3 L583.5,624.4 L585.9,624.5 L588.2,624.5 L590.6,624.6 L592.9,624.6 L595.3,624.7 L597.6,624.8 L600.0,624.8 L602.3,624.9 L604.7,624.9 L607.0,625.0 L609.4,625.1 L611.7,625.1 L614.1,625.2 L616.4,625.2 L618.8,625.3 L621.1,625.3 L623.5,625.4 L625.8,625.5 L628.2,625.5 L630.5,625.6 L632.9,625.6 L635.2,625.7 L637.6,625.7 L639.9,625.8 L642.3,625.8 L644.6,625.9 L647.0,625.9 L649.3,626.0 L651.7,626.0 L654.0,626.1 L656.4,626.1 L658.7,626.2 L661.1,626.2 L663.4,626.3 L665.8,626.3 L668.1,626.4 L670.5,626.4 L672.8,626.5 L675.2,626.5 L677.5,626.6 L679.9,626.6 L682.3,626.7 L684.6,626.7 L687.0,626.8 L689.3,626.8 L691.7,626.9 L694.0,626.9 L696.4,627.0 L698.7,627.0 L701.1,627.1 L703.4,627.1 L705.8,627.1 L708.1,627.2 L710.5,627.2 L712.8,627.3 L715.2,627.3 L717.5,627.4 L719.9,627.4 L722.2,627.5 L724.6,627.5 L726.9,627.5 L729.3,627.6 L731.6,627.6 L734.0,627.7 L736.3,627.7 L738.7,627.8 L741.0,627.8 L743.4,627.8 L745.7,627.9 L748.1,627.9 L750.4,628.0 L752.8,628.0 L755.1,628.1 L757.5,628.1 L759.8,628.1 L762.2,628.2 L764.5,628.2 L766.9,628.3 L769.2,628.3 L771.6,628.3 L773.9,628.4 L776.3,628.4 L778.6,628.5 L781.0,628.5"/><path d="M78.0,124.7 L80.4,148.7 L82.7,168.9 L85.1,186.6 L87.4,202.6 L89.8,217.4 L92.1,231.2 L94.5,244.3 L96.8,256.9 L99.2,268.9 L101.5,280.5 L103.9,291.7 L106.2,302.5 L108.6,312.9 L110.9,323.0 L113.3,332.7 L115.6,342.1 L118.0,351.2 L120.3,360.1 L122.7,368.6 L125.0,376.8 L127.4,384.8 L129.7,392.5 L132.1,400.0 L134.4,407.2 L136.8,414.2 L139.1,421.0 L141.5,427.5 L143.8,433.8 L146.2,439.9 L148.5,445.8 L150.9,451.5 L153.2,457.1 L155.6,462.4 L157.9,467.6 L160.3,472.6 L162.6,477.4 L165.0,482.1 L167.3,486.6 L169.7,491.0 L172.0,495.2 L174.4,499.3 L176.7,503.2 L179.1,507.0 L181.5,510.7 L183.8,514.3 L186.2,517.8 L188.5,521.1 L190.9,524.3 L193.2,527.5 L195.6,530.5 L197.9,533.4 L200.3,536.3 L202.6,539.0 L205.0,541.6 L207.3,544.2 L209.7,546.7 L212.0,549.1 L214.4,551.4 L216.7,553.7 L219.1,555.8 L221.4,557.9 L223.8,560.0 L226.1,561.9 L228.5,563.8 L230.8,565.7 L233.2,567.5 L235.5,569.2 L237.9,570.9 L240.2,572.5 L242.6,574.0 L244.9,575.5 L247.3,577.0 L249.6,578.4 L252.0,579.8 L254.3,581.1 L256.7,582.4 L259.0,583.7 L261.4,584.9 L263.7,586.0 L266.1,587.2 L268.4,588.3 L270.8,589.3 L273.1,590.4 L275.5,591.4 L277.8,592.3 L280.2,593.3 L282.6,594.2 L284.9,595.0 L287.3,595.9 L289.6,596.7 L292.0,597.5 L294.3,598.3 L296.7,599.0 L299.0,599.8 L301.4,600.5 L303.7,601.2 L306.1,601.8 L308.4,602.5 L310.8,603.1 L313.1,603.7 L315.5,604.3 L317.8,604.9 L320.2,605.4 L322.5,605.9 L324.9,606.5 L327.2,607.0 L329.6,607.4 L331.9,607.9 L334.3,608.4 L336.6,608.8 L339.0,609.3 L341.3,609.7 L343.7,610.1 L346.0,610.5 L348.4,610.9 L350.7,611.3 L353.1,611.6 L355.4,612.0 L357.8,612.3 L360.1,612.7 L362.5,613.0 L364.8,613.3 L367.2,613.6 L369.5,613.9 L371.9,614.2 L374.2,614.5 L376.6,614.8 L378.9,615.0 L381.3,615.3 L383.7,615.5 L386.0,615.8 L388.4,616.0 L390.7,616.3 L393.1,616.5 L395.4,616.7 L397.8,616.9 L400.1,617.2 L402.5,617.4 L404.8,617.6 L407.2,617.8 L409.5,617.9 L411.9,618.1 L414.2,618.3 L416.6,618.5 L418.9,618.7 L421.3,618.8 L423.6,619.0 L426.0,619.2 L428.3,619.3 L430.7,619.5 L433.0,619.6 L435.4,619.8 L437.7,619.9 L440.1,620.1 L442.4,620.2 L444.8,620.3 L447.1,620.5 L449.5,620.6 L451.8,620.7 L454.2,620.8 L456.5,621.0 L458.9,621.1 L461.2,621.2 L463.6,621.3 L465.9,621.4 L468.3,621.5 L470.6,621.6 L473.0,621.8 L475.3,621.9 L477.7,622.0 L480.1,622.1 L482.4,622.2 L484.8,622.3 L487.1,622.3 L489.5,622.4 L491.8,622.5 L494.2,622.6 L496.5,622.7 L498.9,622.8 L501.2,622.9 L503.6,623.0 L505.9,623.0 L508.3,623.1 L510.6,623.2 L513.0,623.3 L515.3,623.4 L517.7,623.4 L520.0,623.5 L522.4,623.6 L524.7,623.7 L527.1,623.7 L529.4,623.8 L531.8,623.9 L534.1,623.9 L536.5,624.0 L538.8,624.1 L541.2,624.1 L543.5,624.2 L545.9,624.3 L548.2,624.3 L550.6,624.4 L552.9,624.5 L555.3,624.5 L557.6,624.6 L560.0,624.6 L562.3,624.7 L564.7,624.8 L567.0,624.8 L569.4,624.9 L571.7,624.9 L574.1,625.0 L576.4,625.0 L578.8,625.1 L581.2,625.2 L583.5,625.2 L585.9,625.3 L588.2,625.3 L590.6,625.4 L592.9,625.4 L595.3,625.5 L597.6,625.5 L600.0,625.6 L602.3,625.6 L604.7,625.7 L607.0,625.7 L609.4,625.8 L611.7,625.8 L614.1,625.9 L616.4,625.9 L618.8,625.9 L621.1,626.0 L623.5,626.0 L625.8,626.1 L628.2,626.1 L630.5,626.2 L632.9,626.2 L635.2,626.3 L637.6,626.3 L639.9,626.4 L642.3,626.4 L644.6,626.4 L647.0,626.5 L649.3,626.5 L651.7,626.6 L654.0,626.6 L656.4,626.6 L658.7,626.7 L661.1,626.7 L663.4,626.8 L665.8,626.8 L668.1,626.8 L670.5,626.9 L672.8,626.9 L675.2,627.0 L677.5,627.0 L679.9,627.0 L682.3,627.1 L684.6,627.1 L687.0,627.2 L689.3,627.2 L691.7,627.2 L694.0,627.3 L696.4,627.3 L698.7,627.3 L701.1,627.4 L703.4,627.4 L705.8,627.4 L708.1,627.5 L710.5,627.5 L712.8,627.6 L715.2,627.6 L717.5,627.6 L719.9,627.7 L722.2,627.7 L724.6,627.7 L726.9,627.8 L729.3,627.8 L731.6,627.8 L734.0,627.9 L736.3,627.9 L738.7,627.9 L741.0,628.0 L743.4,628.0 L745.7,628.0 L748.1,628.1 L750.4,628.1 L752.8,628.1 L755.1,628.2 L757.5,628.2 L759.8,628.2 L762.2,628.3 L764.5,628.3 L766.9,628.3 L769.2,628.3 L771.6,628.4 L773.9,628.4 L776.3,628.4 L778.6,628.5 L781.0,628.5"/></g>
</g>
<g stroke="#000" fill="none">
<rect x="77" y="118" width="706" height="515.8" stroke-width="2"/>
<path stroke-width="1.7" d="M78,628.5h4 M78,576.1h4 M78,527.1h4 M78,476.5h4 M78,425.7h4 M78,375h4 M78,322.5h4 M78,272h4 M78,221.25h4 M78,170.5h4 M78,120h4 M781.5,628.5h-6 M781.5,576.1h-6 M781.5,527.1h-6 M781.5,476.5h-6 M781.5,425.7h-6 M781.5,375h-6 M781.5,322.5h-6 M781.5,272h-6 M781.5,221.25h-6 M781.5,170.5h-6 M781.5,120h-6 M218.55,633v-6 M218.55,119v6 M359.8,633v-6 M359.8,119v6 M501,633v-6 M501,119v6 M640.3,633v-6 M640.3,119v6 "/>
</g>
<g fill="#000" stroke="#fff" stroke-width="0.3">
<text transform="translate(247.3,17.3) scale(0.941,1.08)" font-size="24">S</text>
<path d="M274.8,5.5H288.1M274.8,11.5H288.1" stroke="#000" stroke-width="1.25" fill="none"/>
<text transform="translate(296.3,17.3) scale(0.933,1.02)" font-size="24">0</text>
<text x="309.3" y="17.3" font-size="24">.</text>
<text transform="translate(315.9,17.3) scale(1.006,1.02)" font-size="24">2</text>
<text x="330.6" y="17.3" font-size="24">,</text>
<path d="M372.1,5.5H386.1M372.1,11.5H386.1" stroke="#000" stroke-width="1.25" fill="none"/>
<text transform="translate(394.2,17.3) scale(0.889,1.02)" font-size="24">0</text>
<text x="407.4" y="17.3" font-size="24">.</text>
<text transform="translate(415.0,17.3) scale(0.889,1.02)" font-size="24">0</text>
<text transform="translate(427.1,17.3) scale(0.896,1.02)" font-size="24">5</text>
<text x="440.6" y="17.3" font-size="24">,</text>
<text transform="translate(455.4,17.3) scale(0.961,1.08)" font-size="24">A</text>
<path d="M488.5,5.5H502.4M488.5,11.5H502.4" stroke="#000" stroke-width="1.25" fill="none"/>
<path d="M513.8,4.3 L518.3,0.0 V17.3" stroke="#000" stroke-width="1.5" fill="none"/>
<text x="524.6" y="17.3" font-size="24">,</text>
<text transform="translate(537.5,17.3) scale(0.892,1.08)" font-size="24">B</text>
<path d="M571.0,5.5H585.0M571.0,11.5H585.0" stroke="#000" stroke-width="1.25" fill="none"/>
<path d="M596.3,4.3 L600.8,0.0 V17.3" stroke="#000" stroke-width="1.5" fill="none"/>
<text x="607.1" y="17.3" font-size="24">,</text>
<text transform="translate(262.2,28.3) scale(0.901,1.0)" font-size="20">t</text>
<path d="M472.3,17.8 L475.9,14.3 V28.3" stroke="#000" stroke-width="1.5" fill="none"/>
<text transform="translate(552.2,28.3) scale(1.109,1.02)" font-size="20">2</text>
<text transform="translate(249.8,53.5) scale(1.022,1.08)" font-size="24">M</text>
<path d="M276.8,41.5H290.8M276.8,47.5H290.8" stroke="#000" stroke-width="1.25" fill="none"/>
<text transform="translate(298.2,53.5) scale(0.872,1.02)" font-size="24">0</text>
<text x="310.4" y="53.5" font-size="24">.</text>
<text transform="translate(317.9,53.5) scale(0.896,1.02)" font-size="24">5</text>
<text x="331.2" y="53.5" font-size="24">,</text>
<text transform="translate(346.4,53.5) scale(0.799,1.08)" font-size="24">P</text>
<text x="359.9" y="53.5" font-size="24">r</text>
<path d="M376.0,41.5H390.0M376.0,47.5H390.0" stroke="#000" stroke-width="1.25" fill="none"/>
<text transform="translate(396.5,53.5) scale(0.912,1.02)" font-size="24">6</text>
<text x="411.6" y="53.5" font-size="24">,</text>
<path d="M440.3,41.5H452.7M440.3,47.5H452.7" stroke="#000" stroke-width="1.25" fill="none"/>
<text transform="translate(461.2,53.5) scale(0.872,1.02)" font-size="24">0</text>
<text x="473.8" y="53.5" font-size="24">.</text>
<text transform="translate(481.4,53.5) scale(0.888,1.02)" font-size="24">5</text>
<text x="495.6" y="53.5" font-size="24">,</text>
<text transform="translate(509.1,53.5) scale(0.969,1.08)" font-size="24">E</text>
<path d="M543.3,41.5H557.2M543.3,47.5H557.2" stroke="#000" stroke-width="1.25" fill="none"/>
<text transform="translate(564.1,53.5) scale(0.880,1.02)" font-size="24">0</text>
<text x="576.8" y="53.5" font-size="24">.</text>
<text transform="translate(584.4,53.5) scale(0.888,1.02)" font-size="24">3</text>
<text x="598.5" y="53.5" font-size="24">,</text>
<text transform="translate(524.3,64.2) scale(1.102,1.0)" font-size="20">c</text>
<text transform="translate(339.2,89.3) scale(0.974,1.0)" font-size="24">β</text>
<path d="M372.0,77.5H386.0M372.0,83.5H386.0" stroke="#000" stroke-width="1.25" fill="none"/>
<text transform="translate(392.7,89.3) scale(0.889,1.02)" font-size="24">0</text>
<text x="405.6" y="89.3" font-size="24">.</text>
<text transform="translate(413.0,89.3) scale(1.002,1.02)" font-size="24">3</text>
<text x="428.5" y="89.3" font-size="24">,</text>
<text transform="translate(441.3,89.3) scale(1.028,1.0)" font-size="24">β</text>
<path d="M459.6,77.5H473.6M459.6,83.5H473.6" stroke="#000" stroke-width="1.25" fill="none"/>
<text transform="translate(480.4,89.3) scale(0.889,1.02)" font-size="24">0</text>
<text x="493.3" y="89.3" font-size="24">.</text>
<text transform="translate(500.6,89.3) scale(1.011,1.02)" font-size="24">3</text>
<text x="513.6" y="89.3" font-size="24">.</text>
<text transform="translate(351.6,100.6) scale(0.967,1.08)" font-size="20">H</text>
<text x="455.0" y="100.6" font-size="20">i</text>
<text transform="translate(55.3,637.95) scale(0.933,1.02)" font-size="24">0</text>
<text transform="translate(35.7,585.55) scale(0.915,1.02)" font-size="24">0</text>
<text x="48.5" y="585.55" font-size="24">.</text>
<path d="M58.2,572.5 L62.7,568.2 V585.5" stroke="#000" stroke-width="1.5" fill="none"/>
<text transform="translate(35.7,536.55) scale(0.915,1.02)" font-size="24">0</text>
<text x="48.5" y="536.55" font-size="24">.</text>
<text transform="translate(55.5,536.55) scale(0.942,1.02)" font-size="24">2</text>
<text transform="translate(35.7,485.95) scale(0.915,1.02)" font-size="24">0</text>
<text x="48.5" y="485.95" font-size="24">.</text>
<text transform="translate(55.8,485.95) scale(0.905,1.02)" font-size="24">3</text>
<text transform="translate(35.7,435.15) scale(0.915,1.02)" font-size="24">0</text>
<text x="48.5" y="435.15" font-size="24">.</text>
<text transform="translate(56.1,435.15) scale(0.852,1.02)" font-size="24">4</text>
<text transform="translate(35.7,384.45) scale(0.915,1.02)" font-size="24">0</text>
<text x="48.5" y="384.45" font-size="24">.</text>
<text transform="translate(55.7,384.45) scale(0.905,1.02)" font-size="24">5</text>
<text transform="translate(35.7,331.95) scale(0.915,1.02)" font-size="24">0</text>
<text x="48.5" y="331.95" font-size="24">.</text>
<text transform="translate(55.5,331.95) scale(0.930,1.02)" font-size="24">6</text>
<text transform="translate(35.7,281.45) scale(0.915,1.02)" font-size="24">0</text>
<text x="48.5" y="281.45" font-size="24">.</text>
<text transform="translate(55.4,281.45) scale(0.944,1.02)" font-size="24">7</text>
<text transform="translate(35.7,230.7) scale(0.915,1.02)" font-size="24">0</text>
<text x="48.5" y="230.7" font-size="24">.</text>
<text transform="translate(55.6,230.7) scale(0.915,1.02)" font-size="24">8</text>
<text transform="translate(35.7,179.95) scale(0.915,1.02)" font-size="24">0</text>
<text x="48.5" y="179.95" font-size="24">.</text>
<text transform="translate(55.6,179.95) scale(0.929,1.02)" font-size="24">9</text>
<path d="M58.5,116.4 L63.0,112.1 V129.4" stroke="#000" stroke-width="1.5" fill="none"/>
<text transform="translate(70.2,663.6) scale(0.920,1.02)" font-size="24">0</text>
<path d="M214.1,650.6 L218.6,646.3 V663.6" stroke="#000" stroke-width="1.5" fill="none"/>
<text transform="translate(352.1,663.6) scale(0.979,1.02)" font-size="24">2</text>
<text transform="translate(493.5,663.6) scale(0.940,1.02)" font-size="24">3</text>
<text transform="translate(635.4,663.6) scale(0.901,1.02)" font-size="24">4</text>
<text transform="translate(774.0,663.6) scale(0.975,1.02)" font-size="24">5</text>
<text x="427.6" y="695.5" font-size="24" text-anchor="middle">ξ</text>
<g transform="translate(18.4,400) rotate(-90)">
<text transform="translate(-1.85,0.00) scale(0.938,1.110)" font-size="24">F</text>
<text transform="translate(12.27,0.00) scale(0.928,1.100)" font-size="24">'</text>
<text transform="translate(18.89,2.60) scale(0.676,1.210)" font-size="24">(</text>
<text transform="translate(23.10,4.50) scale(1.094,1.087)" font-size="24">ξ</text>
<text transform="translate(35.80,2.60) scale(0.676,1.210)" font-size="24">)</text>
</g>
<text transform="translate(106.7,616.5) scale(0.961,1.08)" font-size="24">R</text>
<text x="123.2" y="616.5" font-size="24">i</text>
<path d="M136.0,604.5H148.7M136.0,610.5H148.7" stroke="#000" stroke-width="1.25" fill="none"/>
<text transform="translate(157.0,616.5) scale(0.976,1.02)" font-size="24">0</text>
<text x="171.7" y="616.5" font-size="24">,</text>
<text transform="translate(184.0,616.5) scale(1.002,1.02)" font-size="24">0</text>
<text x="196.8" y="616.5" font-size="24">.</text>
<text transform="translate(203.7,616.5) scale(1.011,1.02)" font-size="24">3</text>
<text x="218.6" y="616.5" font-size="24">,</text>
<text transform="translate(231.0,616.5) scale(1.002,1.02)" font-size="24">0</text>
<text x="243.8" y="616.5" font-size="24">.</text>
<text transform="translate(250.6,616.5) scale(1.011,1.02)" font-size="24">5</text>
<path d="M353.6,7.9 Q355.5,5.4 358.3,5.8 Q360.6,7 361,10.5 Q360.6,14 359,17 Q359.4,21.6 362.4,22 Q364.4,22.1 365.3,20.3 M363.5,5.4 L363.2,8.5 L360.8,11.2 M358.6,16.4 L355.8,22.2" stroke="#000" stroke-width="1.4" fill="none"/>
<path d="M428,38.6 Q429.5,36 432,36.2 Q433.8,37 434,39.5 L433.7,44.5 Q434.4,47 435.4,49.5 L436.9,52.6 Q438.4,53.6 439.6,51.4 M433.2,45.2 L428.2,53.2" stroke="#000" stroke-width="1.4" fill="none"/>
</g>
<g stroke="#fff" stroke-width="0.3">
<g fill="#ff00ff"><text transform="translate(596.8,180.3) scale(0.829,1.08)" font-size="24">C</text>
<text transform="translate(612.7,180.3) scale(0.912,1.0)" font-size="24">u</text>
<text transform="translate(624.1,180.3) scale(0.853,1.0)" font-size="24">-</text>
<text transform="translate(632.1,180.3) scale(1.082,1.08)" font-size="24">W</text>
<text transform="translate(656.6,180.3) scale(0.698,1.0)" font-size="24">a</text>
<text transform="translate(668.1,180.3) scale(0.881,1.0)" font-size="24">t</text>
<text transform="translate(676.5,180.3) scale(0.817,1.0)" font-size="24">e</text>
<text transform="translate(688.5,180.3) scale(0.950,1.0)" font-size="24">r</text></g>
<g fill="#0000ff"><text transform="translate(590.2,247) scale(1.062,1.08)" font-size="24">A</text>
<text x="606.9" y="247" font-size="24">l</text>
<text transform="translate(624.0,247) scale(0.787,1.08)" font-size="24">O</text>
<text transform="translate(649.0,247) scale(0.922,1.0)" font-size="24">-</text>
<text transform="translate(657.6,247) scale(1.051,1.08)" font-size="24">W</text>
<text transform="translate(682.5,247) scale(0.665,1.0)" font-size="24">a</text>
<text transform="translate(694.0,247) scale(0.799,1.0)" font-size="24">t</text>
<text transform="translate(702.3,247) scale(0.728,1.0)" font-size="24">e</text>
<text transform="translate(712.9,247) scale(1.050,1.0)" font-size="24">r</text>
<text transform="translate(610.9,258.4) scale(1.076,1.02)" font-size="20">2</text>
<text transform="translate(638.8,258.4) scale(1.033,1.02)" font-size="20">3</text></g>
</g>
<path d="M550.5,185.2H588.5" stroke="#ff00ff" stroke-width="1.6"/>
<path d="M546.9,241.1h5.7 M561.7,241.1h5.4 M576.2,241.1h5.3" stroke="#0000ff" stroke-width="1.8"/>
<path d="M182,487.5 L537,471" stroke="#000" stroke-width="1.8" fill="none"/>
<path d="M188.8,591.6 L218.5,512.4" stroke="#000" stroke-width="1.4" fill="none"/>
<path d="M226,495.7 L208.9,514.2 L218.5,512.4 L226,522.4 Z" fill="#000"/>
<rect x="537" y="418.5" width="241.3" height="155.5" fill="#fff"/>
<g clip-path="url(#ci)" fill="none">
<g stroke="#ff00ff" stroke-width="5.5"><path d="M525.6,452.2 L528.9,454.1 L532.3,456.0 L535.6,457.8 L538.9,459.7 L542.3,461.5 L545.6,463.3 L549.0,465.1 L552.3,466.9 L555.7,468.7 L559.0,470.5 L562.4,472.3 L565.7,474.0 L569.1,475.7 L572.4,477.5 L575.7,479.2 L579.1,480.9 L582.4,482.6 L585.8,484.3 L589.1,486.0 L592.5,487.6 L595.8,489.3 L599.2,490.9 L602.5,492.6 L605.9,494.2 L609.2,495.8 L612.6,497.4 L615.9,499.0 L619.2,500.6 L622.6,502.1 L625.9,503.7 L629.3,505.2 L632.6,506.8 L636.0,508.3 L639.3,509.8 L642.7,511.3 L646.0,512.8 L649.4,514.3 L652.7,515.8 L656.0,517.3 L659.4,518.8 L662.7,520.2 L666.1,521.7 L669.4,523.1 L672.8,524.5 L676.1,525.9 L679.5,527.3 L682.8,528.7 L686.2,530.1 L689.5,531.5 L692.9,532.9 L696.2,534.3 L699.5,535.6 L702.9,537.0 L706.2,538.3 L709.6,539.6 L712.9,541.0 L716.3,542.3 L719.6,543.6 L723.0,544.9 L726.3,546.2 L729.7,547.4 L733.0,548.7 L736.3,550.0 L739.7,551.2 L743.0,552.5 L746.4,553.7 L749.7,554.9 L753.1,556.2 L756.4,557.4 L759.8,558.6 L763.1,559.8 L766.5,561.0 L769.8,562.2 L773.2,563.4 L776.5,564.5 L779.8,565.7 L783.2,566.8 L786.5,568.0 L789.9,569.1"/><path d="M525.6,467.9 L528.9,469.7 L532.3,471.6 L535.6,473.4 L538.9,475.3 L542.3,477.1 L545.6,478.9 L549.0,480.7 L552.3,482.5 L555.7,484.2 L559.0,486.0 L562.4,487.7 L565.7,489.5 L569.1,491.2 L572.4,492.9 L575.7,494.6 L579.1,496.3 L582.4,498.0 L585.8,499.6 L589.1,501.3 L592.5,502.9 L595.8,504.6 L599.2,506.2 L602.5,507.8 L605.9,509.4 L609.2,511.0 L612.6,512.6 L615.9,514.1 L619.2,515.7 L622.6,517.2 L625.9,518.8 L629.3,520.3 L632.6,521.8 L636.0,523.3 L639.3,524.8 L642.7,526.3 L646.0,527.8 L649.4,529.3 L652.7,530.7 L656.0,532.2 L659.4,533.6 L662.7,535.0 L666.1,536.5 L669.4,537.9 L672.8,539.3 L676.1,540.7 L679.5,542.1 L682.8,543.4 L686.2,544.8 L689.5,546.1 L692.9,547.5 L696.2,548.8 L699.5,550.2 L702.9,551.5 L706.2,552.8 L709.6,554.1 L712.9,555.4 L716.3,556.7 L719.6,557.9 L723.0,559.2 L726.3,560.5 L729.7,561.7 L733.0,563.0 L736.3,564.2 L739.7,565.4 L743.0,566.6 L746.4,567.9 L749.7,569.1 L753.1,570.3 L756.4,571.4 L759.8,572.6 L763.1,573.8 L766.5,575.0 L769.8,576.1 L773.2,577.3 L776.5,578.4 L779.8,579.5 L783.2,580.7 L786.5,581.8 L789.9,582.9"/><path d="M525.6,487.8 L528.9,489.6 L532.3,491.5 L535.6,493.3 L538.9,495.1 L542.3,496.9 L545.6,498.7 L549.0,500.5 L552.3,502.2 L555.7,504.0 L559.0,505.7 L562.4,507.4 L565.7,509.1 L569.1,510.8 L572.4,512.5 L575.7,514.2 L579.1,515.8 L582.4,517.5 L585.8,519.1 L589.1,520.8 L592.5,522.4 L595.8,524.0 L599.2,525.6 L602.5,527.2 L605.9,528.7 L609.2,530.3 L612.6,531.8 L615.9,533.4 L619.2,534.9 L622.6,536.4 L625.9,537.9 L629.3,539.4 L632.6,540.9 L636.0,542.4 L639.3,543.8 L642.7,545.3 L646.0,546.7 L649.4,548.2 L652.7,549.6 L656.0,551.0 L659.4,552.4 L662.7,553.8 L666.1,555.2 L669.4,556.6 L672.8,557.9 L676.1,559.3 L679.5,560.6 L682.8,562.0 L686.2,563.3 L689.5,564.6 L692.9,565.9 L696.2,567.2 L699.5,568.5 L702.9,569.8 L706.2,571.0 L709.6,572.3 L712.9,573.6 L716.3,574.8 L719.6,576.0 L723.0,577.3 L726.3,578.5 L729.7,579.7 L733.0,580.9 L736.3,582.1 L739.7,583.3 L743.0,584.4 L746.4,585.6 L749.7,586.8 L753.1,587.9 L756.4,589.1 L759.8,590.2 L763.1,591.3 L766.5,592.4 L769.8,593.6 L773.2,594.7 L776.5,595.8 L779.8,596.8 L783.2,597.9 L786.5,599.0 L789.9,600.1"/></g>
<g stroke="#0000ff" stroke-width="5"><path d="M544.4,437.3 L547.8,439.2 L551.2,441.1 L554.6,443.0 L558.0,444.8 M563.9,448.1 L567.3,449.9 L570.7,451.7 L574.1,453.5 L577.5,455.3 M583.4,458.4 L586.8,460.2 L590.2,462.0 L593.6,463.7 L597.0,465.5 M602.1,468.1 L605.8,469.9 L609.6,471.8 L613.4,473.7 L617.1,475.5 M625.6,479.7 L629.9,481.8 L634.1,483.8 L638.4,485.9 L642.7,487.9 M651.3,491.9 L655.6,493.9 L659.8,495.9 L664.1,497.8 L668.4,499.7 M677.6,503.9 L681.9,505.7 L686.2,507.6 L690.4,509.5 L694.7,511.3 M703.5,515.1 L707.8,516.9 L712.1,518.7 L716.5,520.5 L720.8,522.3 M729.1,525.7 L733.4,527.5 L737.8,529.2 L742.1,530.9 L746.4,532.6 M755.4,536.1 L759.5,537.7 L763.7,539.3 L767.9,540.9 L772.0,542.5 M544.4,450.7 L547.8,452.5 L551.2,454.4 L554.6,456.3 L558.0,458.1 M563.9,461.3 L567.3,463.2 L570.7,465.0 L574.1,466.8 L577.5,468.6 M583.4,471.7 L586.8,473.4 L590.2,475.2 L593.6,476.9 L597.0,478.6 M602.1,481.2 L605.8,483.1 L609.6,485.0 L613.4,486.8 L617.1,488.7 M625.6,492.8 L629.9,494.8 L634.1,496.9 L638.4,498.9 L642.7,500.9 M651.3,504.9 L655.6,506.8 L659.8,508.8 L664.1,510.7 L668.4,512.6 M677.6,516.7 L681.9,518.6 L686.2,520.4 L690.4,522.3 L694.7,524.1 M703.5,527.8 L707.8,529.6 L712.1,531.4 L716.5,533.2 L720.8,535.0 M729.1,538.3 L733.4,540.0 L737.8,541.8 L742.1,543.5 L746.4,545.1 M755.4,548.6 L759.5,550.2 L763.7,551.8 L767.9,553.3 L772.0,554.9 M544.4,467.9 L547.5,469.6 L550.7,471.4 L553.9,473.1 L557.0,474.8 M564.5,478.8 L567.9,480.6 L571.2,482.4 L574.6,484.2 L578.0,486.0 M584.5,489.3 L588.0,491.1 L591.5,492.9 L595.0,494.7 L598.5,496.4 M602.0,498.2 L605.9,500.1 L609.9,502.1 L613.8,504.0 L617.8,505.9 M627.0,510.3 L631.3,512.4 L635.6,514.4 L639.9,516.4 L644.2,518.4 M653.4,522.6 L657.5,524.4 L661.6,526.3 L665.7,528.1 L669.8,529.9 M679.8,534.2 L683.7,535.9 L687.6,537.6 L691.5,539.2 L695.4,540.8 M704.7,544.7 L709.0,546.5 L713.3,548.2 L717.7,549.9 L722.0,551.7 M731.0,555.2 L735.2,556.8 L739.4,558.5 L743.5,560.1 L747.7,561.6 M757.3,565.2 L761.0,566.6 L764.6,568.0 L768.3,569.3 L772.0,570.6"/></g>
</g>
<g stroke="#000" fill="none">
<rect x="537" y="418.5" width="241.3" height="155.5" stroke-width="1.7"/>
<path stroke-width="1.6" d="M582.2,573.5v-3 M676.6,573.5v-3 M582.2,419.5v3 M676.6,419.5v3 M777.5,464h-3 M777.5,514.6h-3"/>
</g>
<g fill="#000">
<text transform="translate(495.5,473.5) scale(0.946,1.04)" font-size="24" font-weight="bold">0</text>
<text x="509.4" y="473.5" font-size="24" font-weight="bold">.</text>
<text transform="translate(515.5,473.5) scale(0.905,1.04)" font-size="24" font-weight="bold">3</text>
<text transform="translate(483.1,524.5) scale(0.902,1.04)" font-size="24" font-weight="bold">0</text>
<text x="496.3" y="524.5" font-size="24" font-weight="bold">.</text>
<text transform="translate(503.3,524.5) scale(0.883,1.04)" font-size="24" font-weight="bold">2</text>
<text transform="translate(515.9,524.5) scale(0.858,1.04)" font-size="24" font-weight="bold">5</text>
<text transform="translate(495.6,575.3) scale(0.902,1.04)" font-size="24" font-weight="bold">0</text>
<text x="508.8" y="575.3" font-size="24" font-weight="bold">.</text>
<text transform="translate(515.8,575.3) scale(0.887,1.04)" font-size="24" font-weight="bold">2</text>
<text transform="translate(564.4,604) scale(0.937,1.04)" font-size="24" font-weight="bold">0</text>
<text x="578.3" y="604" font-size="24" font-weight="bold">.</text>
<text transform="translate(584.1,604) scale(0.986,1.04)" font-size="24" font-weight="bold">7</text>
<text transform="translate(658.3,604) scale(0.920,1.04)" font-size="24" font-weight="bold">0</text>
<text x="672.3" y="604" font-size="24" font-weight="bold">.</text>
<text transform="translate(678.8,604) scale(0.912,1.04)" font-size="24" font-weight="bold">8</text>
<text transform="translate(756.3,604) scale(0.929,1.04)" font-size="24" font-weight="bold">0</text>
<text x="770.3" y="604" font-size="24" font-weight="bold">.</text>
<text transform="translate(776.7,604) scale(0.920,1.04)" font-size="24" font-weight="bold">9</text>
</g>
</svg>
</body></html>
